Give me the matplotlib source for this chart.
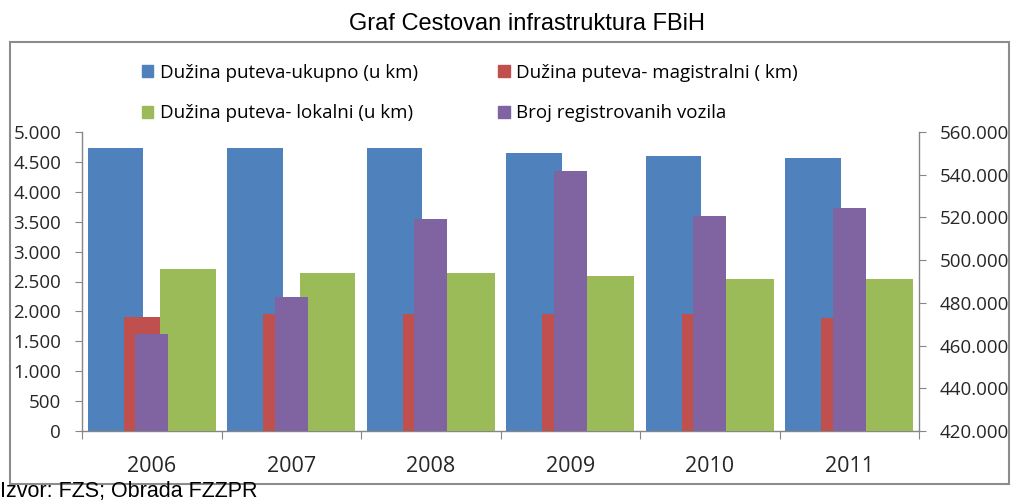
import numpy as np
import matplotlib
matplotlib.use("Agg")
import matplotlib.pyplot as plt
from matplotlib.patches import Patch, Rectangle
from matplotlib.ticker import FuncFormatter, MultipleLocator

# ─── data ────────────────────────────────────────────────────────────────────
years       = ["2006", "2007", "2008", "2009", "2010", "2011"]
ukupno      = [4726, 4726, 4726, 4643, 4599, 4559]
magistralni = [1914, 1964, 1964, 1964, 1964, 1897]
lokalni     = [2712, 2650, 2650, 2590, 2540, 2540]
vozila      = [465300, 482800, 519400, 541700, 520600, 524200]

labels = ["Dužina puteva-ukupno (u km)",
          "Dužina puteva- magistralni ( km)",
          "Dužina puteva- lokalni (u km)",
          "Broj registrovanih vozila"]

BLUE, RED, GREEN, PURPLE = "#4F81BD", "#C0504D", "#9BBB59", "#8064A2"
AXIS_GRAY = "#868686"
FONT = ["Open Sans", "DejaVu Sans"]


def dot_thousands(v, pos):
    return f"{int(round(v)):,}".replace(",", ".")


fig = plt.figure(figsize=(10.13, 5.03), dpi=100)

# outer chart frame
fig.patches.append(Rectangle((10 / 1013, 1 - 484 / 503), 999 / 1013, 442 / 503,
                             transform=fig.transFigure, fill=False,
                             edgecolor="#8c8c8c", linewidth=1.5))

ax = fig.add_axes([82 / 1013, 1 - 431 / 503, 837 / 1013, 299 / 503])
ax2 = ax.twinx()

x = np.arange(len(years))
w, off = 0.40, 0.26
ax.bar(x - off, ukupno, w, color=BLUE, zorder=2)
ax.bar(x, magistralni, w, color=RED, zorder=3)
ax.bar(x + off, lokalni, w, color=GREEN, zorder=4)
ax2.bar(x, vozila, 0.237, color=PURPLE, zorder=2)

ax.set_xlim(-0.5, len(years) - 0.5)
ax.set_ylim(0, 5000)
ax2.set_ylim(420000, 560000)
ax.yaxis.set_major_locator(MultipleLocator(500))
ax2.yaxis.set_major_locator(MultipleLocator(20000))
ax.yaxis.set_major_formatter(FuncFormatter(dot_thousands))
ax2.yaxis.set_major_formatter(FuncFormatter(dot_thousands))

# category labels centred, ticks on the category borders
ax.set_xticks(np.arange(-0.5, len(years)), minor=False)
ax.set_xticklabels([])
ax.set_xticks(x, minor=True)
ax.set_xticklabels(years, minor=True, fontsize=15.5, family=FONT, color="#262626")
ax.tick_params(axis="x", which="minor", length=0, pad=18)
ax.tick_params(axis="x", which="major", length=6, color=AXIS_GRAY, direction="out")

for a in (ax, ax2):
    for s in a.spines.values():
        s.set_visible(False)
    a.tick_params(axis="y", length=5, color=AXIS_GRAY, labelsize=13.5,
                  labelcolor="#262626", pad=10)
    for t in a.get_yticklabels():
        t.set_family(FONT)
ax.spines["left"].set_visible(True)
ax.spines["bottom"].set_visible(True)
ax2.spines["right"].set_visible(True)
for s in (ax.spines["left"], ax.spines["bottom"], ax2.spines["right"]):
    s.set_color(AXIS_GRAY)
    s.set_linewidth(1.0)

# legend fills column-wise, so order handles to read row by row
colors = [BLUE, RED, GREEN, PURPLE]
order = [0, 2, 1, 3]
handles = [Patch(color=colors[i]) for i in order]
fig.legend(handles, [labels[i] for i in order], ncol=2, loc="upper left",
           bbox_to_anchor=(125 / 1013, 1 - 47 / 503), frameon=False,
           handlelength=0.6, handleheight=0.6, handletextpad=0.35,
           columnspacing=4.3, labelspacing=1.2,
           prop={"family": FONT, "size": 13.5})

fig.text(527 / 1013, 1 - 24 / 503, "Graf Cestovan infrastruktura FBiH",
         ha="center", va="center", fontsize=17, family="Liberation Sans")
fig.text(0, 1 - 481 / 503, "Izvor: FZS; Obrada FZZPR",
         ha="left", va="top", fontsize=15.5, family="Liberation Sans")

fig.savefig("out.png", dpi=100)
